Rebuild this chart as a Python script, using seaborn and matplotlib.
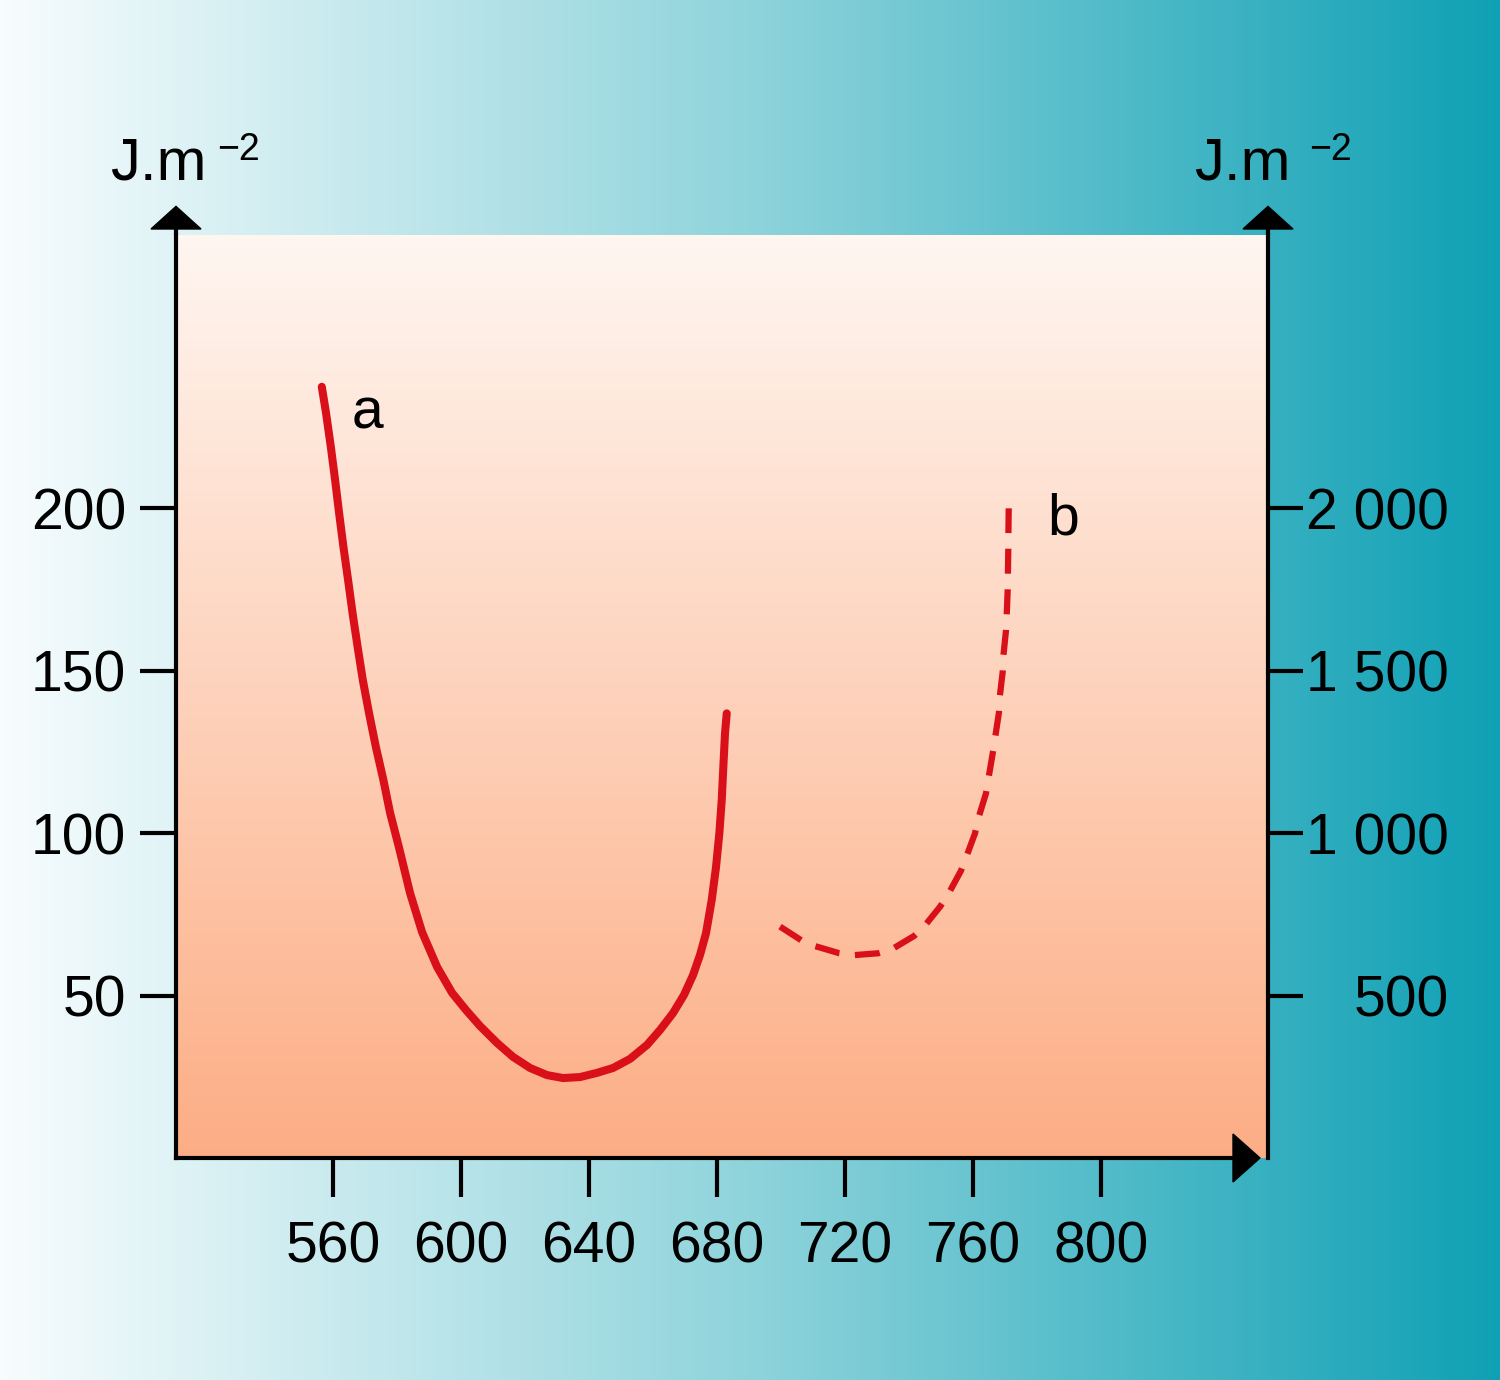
import numpy as np
import matplotlib
matplotlib.use("Agg")
import matplotlib.pyplot as plt
import matplotlib.patches as mpatches
from matplotlib.colors import LinearSegmentedColormap
import seaborn as sns
import pandas as pd

# curve a (left axis, J.m-2)
wl_a = [556.47, 557.81, 559.28, 560.63, 561.88, 563.22, 564.69, 566.09, 567.66,
        569.28, 571.25, 573.34, 575.72, 577.81, 580.63, 584.06, 587.81, 592.5,
        597.19, 601.56, 605.94, 611.25, 616.25, 621.56, 626.88, 631.88, 637.19,
        642.5, 647.5, 652.81, 658.13, 662.19, 666.25, 669.69, 672.5, 674.69,
        676.56, 678.34, 679.69, 680.72, 681.47, 681.97, 682.5, 683.03]
val_a = [237.3, 229.1, 218.9, 208.6, 198.4, 188.1, 177.8, 167.6, 157.3,
         147.1, 136.8, 126.6, 116.3, 106.2, 95.4, 81.5, 69.5, 58.8,
         50.8, 45.5, 40.6, 35.4, 31.1, 27.7, 25.5, 24.6, 24.9,
         26.2, 27.7, 30.5, 34.8, 39.4, 44.6, 50.2, 56.3, 62.5,
         69.2, 79.4, 89.6, 99.9, 110.2, 120.4, 130.8, 136.8]

# curve b (right axis, J.m-2), dashed
wl_b = [699.69, 706.47, 710.63, 718.22, 722.59, 730.41, 734.59, 741.56, 744.69,
        749.69, 752.28, 756.25, 757.81, 760.63, 761.66, 764.06, 764.78, 766.16,
        766.88, 768.1, 768.35, 769.28, 769.47, 770.31, 770.53, 770.84, 770.9,
        771.03, 771.06, 771.16]
val_b = [712, 669, 652, 630, 624, 630, 642, 683, 712,
         773, 812, 884, 924, 999, 1045, 1122, 1165, 1245,
         1291, 1370, 1418, 1496, 1543, 1623, 1668, 1748, 1794,
         1873, 1920, 1999]

x_ticks = [560, 600, 640, 680, 720, 760, 800]
left_ticks = [50, 100, 150, 200]
right_ticks = [500, 1000, 1500, 2000]
right_labels = ["500", "1 000", "1 500", "2 000"]

df_a = pd.DataFrame({"wl": wl_a, "val": val_a})
df_b = pd.DataFrame({"wl": wl_b, "val": val_b})

sns.set_theme(style="white", rc={"text.color": "black", "xtick.color": "black",
                                 "ytick.color": "black", "axes.labelcolor": "black"})
plt.rcParams["font.family"] = ["Liberation Sans", "DejaVu Sans"]

red = "#d90f19"
fs = 41

fig = plt.figure(figsize=(15, 13.8), dpi=100)

# background gradient (white -> teal)
bg = fig.add_axes([0, 0, 1, 1])
bg_cmap = LinearSegmentedColormap.from_list(
    "bg", [(0, (0.97, 0.99, 0.995)), (0.5, (0.56, 0.83, 0.86)), (1, (0.06, 0.63, 0.71))])
bg.imshow(np.linspace(0, 1, 256)[None, :], cmap=bg_cmap, aspect="auto",
          extent=[0, 1, 0, 1])
bg.set_axis_off()

W, H = 1500, 1380
x0, x1, ytop, ybot = 176, 1268, 235, 1158
xmin, xmax = 510.9, 852.2
ax = fig.add_axes([x0 / W, (H - ybot) / H, (x1 - x0) / W, (ybot - ytop) / H])

# plot area gradient (top pale -> bottom peach)
pa_cmap = LinearSegmentedColormap.from_list(
    "pa", [(0, (0.99, 0.68, 0.52)), (1, (1.0, 0.965, 0.945))])
ax.imshow(np.linspace(0, 1, 256)[:, None], cmap=pa_cmap, aspect="auto",
          origin="lower", extent=[0, 1, 0, 1], transform=ax.transAxes, zorder=0)
ax.set_xlim(xmin, xmax)
ax.set_ylim(0, 284)

sns.lineplot(data=df_a, x="wl", y="val", ax=ax, color=red, linewidth=5.8,
             estimator=None, sort=False, solid_capstyle="round",
             solid_joinstyle="round", zorder=3)

ax2 = ax.twinx()
ax2.set_ylim(0, 2840)
sns.lineplot(data=df_b, x="wl", y="val", ax=ax2, color=red, linewidth=4.5,
             estimator=None, sort=False,
             linestyle=(0, (4.0, 2.5)), dash_capstyle="butt", zorder=3)

for a in (ax, ax2):
    a.set_xlabel("")
    a.set_ylabel("")
    a.spines["top"].set_visible(False)
    for s in a.spines.values():
        s.set_linewidth(3)
        s.set_color("black")
ax2.spines["left"].set_visible(False)
ax2.spines["bottom"].set_visible(False)
ax.spines["right"].set_visible(False)
ax.spines["bottom"].set_bounds(xmin, xmin + (1235 - x0) / (x1 - x0) * (xmax - xmin))

ax.set_xticks(x_ticks)
ax.set_xticklabels([str(v) for v in x_ticks])
ax.set_yticks(left_ticks)
ax.set_yticklabels([str(v) for v in left_ticks])
ax.tick_params(axis="x", direction="out", length=28, width=3, pad=17,
               labelsize=fs, bottom=True, color="black", labelcolor="black")
ax.tick_params(axis="y", direction="out", length=26, width=3, pad=10,
               labelsize=fs, left=True, color="black", labelcolor="black")
ax2.set_yticks(right_ticks)
ax2.set_yticklabels(right_labels)
ax2.tick_params(axis="y", direction="out", length=25, width=3, pad=105,
                labelsize=fs, right=True, color="black", labelcolor="black")
for lab in ax2.get_yticklabels():
    lab.set_horizontalalignment("right")

# axis arrows (axes coordinates)
tr = ax.transAxes
hw = 25 / (x1 - x0)
for xa in (0.0, 1.0):
    ax.plot([xa, xa], [1.0, 1.008], color="black", lw=3, transform=tr, clip_on=False)
    ax.add_patch(mpatches.Polygon([[xa - hw, 1.0065], [xa + hw, 1.0065], [xa, 1.031]],
                                  closed=True, color="black", transform=tr,
                                  clip_on=False, zorder=5))
hh = 24 / (ybot - ytop)
ax.add_patch(mpatches.Polygon([[(1233 - x0) / (x1 - x0), hh], [(1233 - x0) / (x1 - x0), -hh],
                               [(1260 - x0) / (x1 - x0), 0]],
                              closed=True, color="black", transform=tr,
                              clip_on=False, zorder=5))

# curve labels
ax.text(0.175, 0.807, "a", transform=tr, fontsize=fs, ha="center", va="center")
ax.text(0.812, 0.692, "b", transform=tr, fontsize=fs, ha="center", va="center")

# unit labels
fig.text(110 / W, 1 - 180 / H, "J.m", fontsize=43, ha="left", va="baseline")
fig.text(217 / W, 1 - 160 / H, "\u22122", fontsize=27, ha="left", va="baseline")
fig.text(1194 / W, 1 - 180 / H, "J.m", fontsize=43, ha="left", va="baseline")
fig.text(1309 / W, 1 - 160 / H, "\u22122", fontsize=27, ha="left", va="baseline")

fig.savefig("out.png", dpi=100)
